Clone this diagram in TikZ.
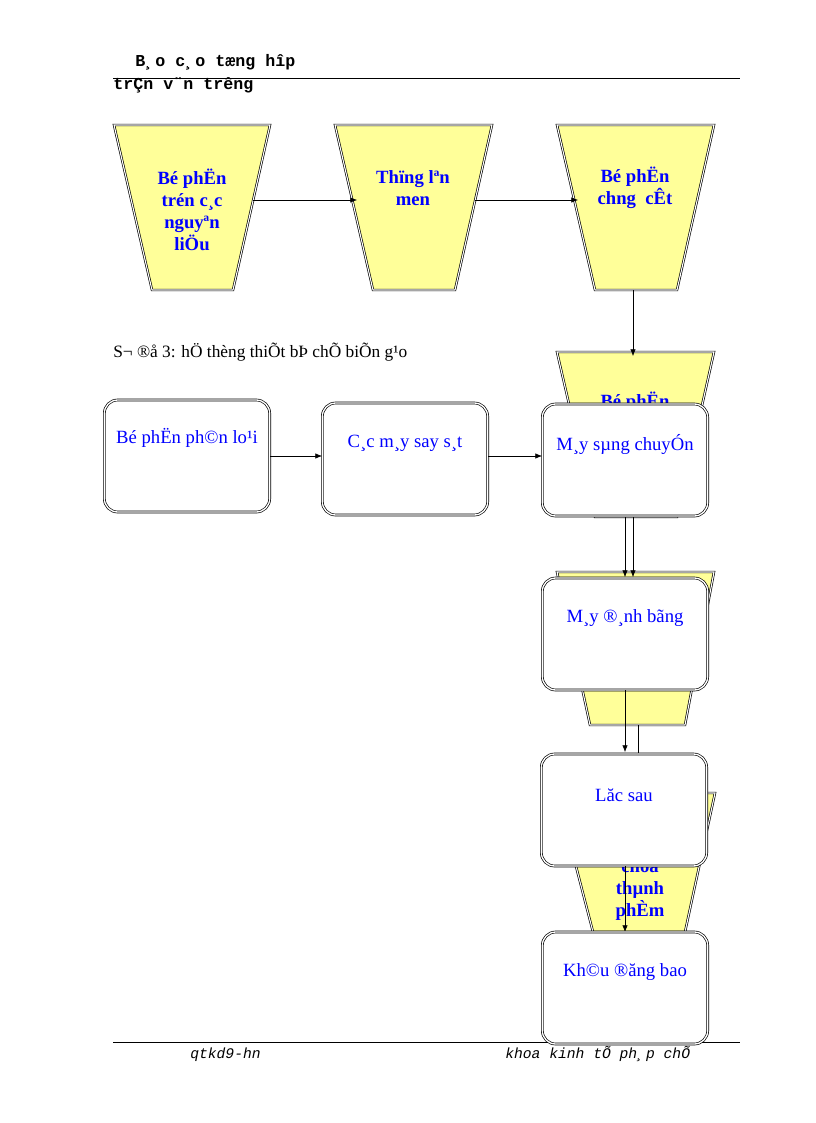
\documentclass[tikz,border=0pt]{standalone}
\usepackage{fontspec}
\setmainfont{Liberation Serif}
\setmonofont{Liberation Mono}
\usetikzlibrary{arrows.meta}
\begin{document}
\begin{tikzpicture}[x=0.75pt,y=-0.75pt,
  trap/.style={fill={rgb,255:red,255;green,255;blue,153},draw=black,double=white,double distance=0.8pt,line width=0.5pt},
  tt/.style={font=\fontsize{14}{16.5}\selectfont\bfseries,text=blue,align=center},
  box/.style={draw=black,double=white,double distance=1pt,line width=0.5pt,fill=white,rounded corners=10pt,minimum width=124pt,minimum height=84pt,inner sep=0pt},
  bt/.style={font=\fontsize{14}{16}\selectfont,text=blue},
  arr/.style={-{Latex[length=5pt,width=4pt]},line width=0.4pt}]
\useasboundingbox[fill=white] (0,0) rectangle (816,1123);
% header / footer
\node[anchor=base west,inner sep=0pt,font=\ttfamily\bfseries\fontsize{12.5}{15}\selectfont] (h1) at (135,67) {B¸o c¸o tæng hîp};
\draw[line width=0.6pt] (113,78) -- (740,78);
\node[anchor=base west,inner sep=0pt,font=\ttfamily\bfseries\fontsize{12.5}{15}\selectfont] (h2) at (113,90) {trÇn v¨n trêng};
\draw[line width=0.6pt] (113,1042) -- (740,1042);
\node[anchor=base west,inner sep=0pt,font=\ttfamily\itshape\fontsize{11}{14}\selectfont] (f1) at (190,1058) {qtkd9-hn};
\node[anchor=base west,inner sep=0pt,font=\ttfamily\itshape\fontsize{11}{14}\selectfont] (f2) at (505,1058) {khoa kinh tÕ ph¸p chÕ};
\node[anchor=base west,inner sep=0pt,font=\fontsize{13}{15}\selectfont] (cap) at (113,357) {S¬ ®å 3: hÖ thèng thiÕt bÞ chÕ biÕn g¹o};
% trapezoids
\draw[trap] (114,125) -- (270,125) -- (233,290) -- (152,290) -- cycle;
\node[tt] (t1) at (192,210) {Bé phËn\\trén c¸c\\nguyªn\\liÖu};
\draw[trap] (335,125) -- (492,125) -- (455,290) -- (373,290) -- cycle;
\node[tt] (t2) at (413,188) {Thïng lªn\\men};
\draw[trap] (557,125) -- (714,125) -- (677,290) -- (595,290) -- cycle;
\node[tt] (t3) at (635,188) {Bé phËn\\chng\enspace cÊt};
\draw[trap] (557,352) -- (714,352) -- (677,517) -- (595,517) -- cycle;
\node[tt] (t4) at (635,402) {Bé phËn};
\draw[trap] (557,572) -- (714,572) -- (685,725) -- (590,725) -- cycle;
\draw[trap] (557,793) -- (715,793) -- (685,932) -- (593,932) -- cycle;
\node[tt] (t6) at (640,890) {chöa\\thµnh\\phÈm};
% arrows between trapezoids
\draw[arr] (253,200) -- (357,200);
\draw[arr] (475,200) -- (578,200);
\draw[arr] (633,290) -- (633,356);
% boxes
\node[box] (b1) at (187,456) {};
\node[bt] at (187,438) {Bé phËn ph©n lo¹i};
\node[box] (b2) at (405,459) {};
\node[bt] at (405,443) {C¸c m¸y say s¸t};
\node[box] (b3) at (625,460) {};
\node[bt] at (625,444) {M¸y sµng chuyÓn};
\draw[arr] (b1.east |- 0,456) -- (b2.west |- 0,456);
\draw[arr] (b2.east |- 0,456) -- (b3.west |- 0,456);
\draw[arr] (625,517) -- (625,577);
\draw[arr] (633,517) -- (633,577);
\node[box] (b4) at (625,634) {};
\node[bt] at (625,618) {M¸y ®¸nh bãng};
\draw[arr] (625,690) -- (625,752);
\draw (638,725) -- (638,753);
\node[box] (b5) at (624,810) {};
\node[bt] at (624,795) {Lăc sau};
\draw[arr] (625,866) -- (625,932);
\node[box] (b6) at (625,988) {};
\node[bt] at (625,972) {Kh©u ®ăng bao};
\end{tikzpicture}
\end{document}
